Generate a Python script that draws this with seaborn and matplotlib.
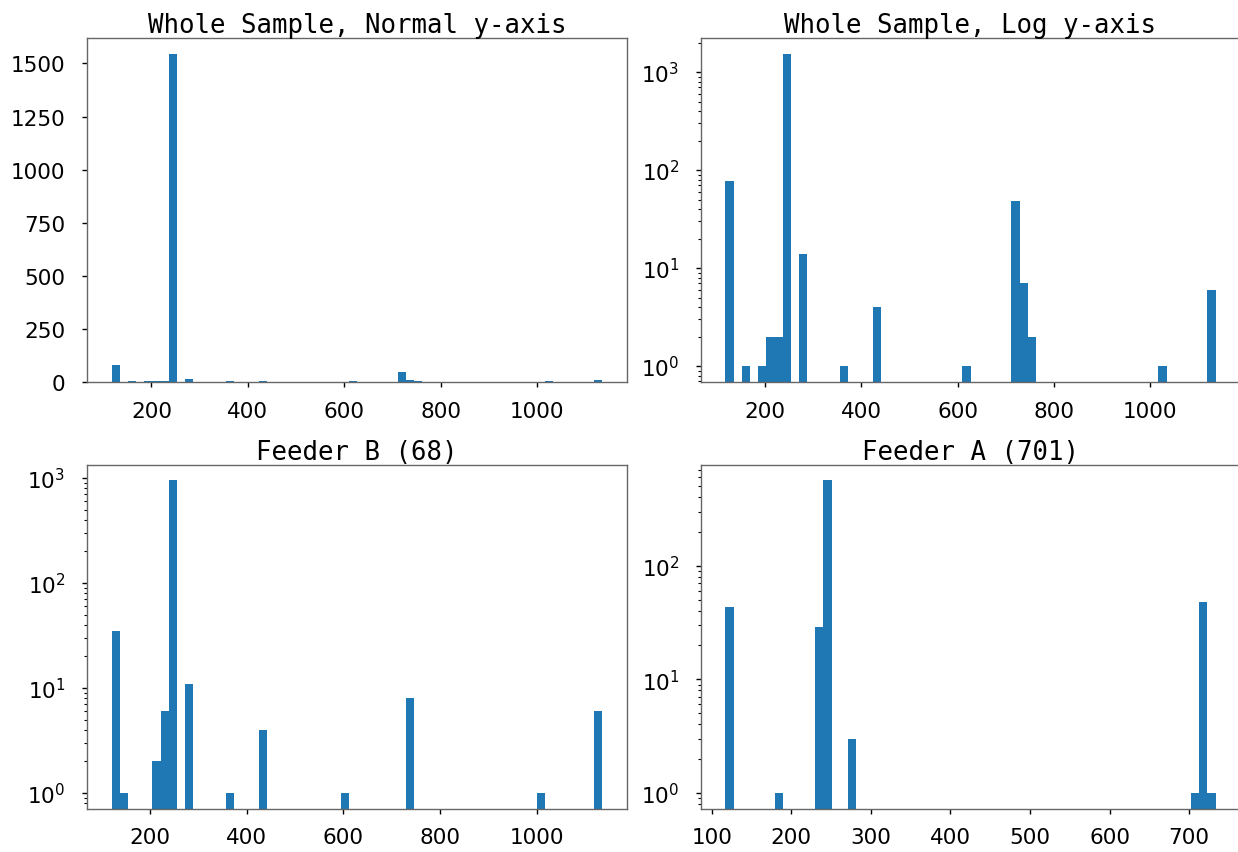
import numpy as np
import pandas as pd
import matplotlib
matplotlib.use("Agg")
import matplotlib.pyplot as plt
import seaborn as sns

# ---- data (bar locations and counts per histogram) ----
whole_range = (117.3, 1136.0)
whole_values = [125.8, 159.7, 193.7, 210.7, 227.7, 244.6, 278.6, 363.5,
                431.4, 618.1, 720.0, 737.0, 753.9, 1025.6, 1127.5]
whole_counts = [78, 1, 1, 2, 2, 1543, 14, 1, 4, 1, 48, 7, 2, 1, 6]

feeder_b_range = (120.0, 1136.0)
feeder_b_values = [128.5, 145.4, 213.1, 230.1, 247.0, 280.9, 365.5, 433.2,
                   602.6, 738.0, 1008.9, 1127.5]
feeder_b_counts = [35, 1, 2, 6, 950, 11, 1, 4, 1, 8, 1, 6]

feeder_a_range = (117.3, 733.2)
feeder_a_values = [122.4, 184.6, 235.4, 245.6, 276.4, 707.6, 717.9, 728.1]
feeder_a_counts = [43, 1, 29, 565, 3, 1, 48, 1]

n_bins = 60
titles = ["Whole Sample, Normal y-axis", "Whole Sample, Log y-axis",
          "Feeder B (68)", "Feeder A (701)"]

# ---- style ----
sns.set_style("ticks")
plt.rcParams.update({
    "font.family": ["DejaVu Sans"],
    "axes.edgecolor": "0.4",
    "axes.linewidth": 1.0,
    "xtick.color": "black",
    "ytick.color": "black",
    "xtick.labelcolor": "black",
    "ytick.labelcolor": "black",
    "xtick.labelsize": 15.5,
    "ytick.labelsize": 15.5,
    "xtick.major.size": 3.6,
    "ytick.major.size": 3.6,
    "xtick.major.width": 1.0,
    "ytick.major.width": 1.0,
    "ytick.minor.size": 2.0,
    "ytick.minor.width": 0.8,
    "xtick.major.pad": 10,
    "ytick.major.pad": 12,
    "axes.titlecolor": "black",
})

W, H = 1238, 853
fig = plt.figure(figsize=(W / 100, H / 100), dpi=100)

def rect(x0, x1, y0, y1):
    return [x0 / W, 1 - y1 / H, (x1 - x0) / W, (y1 - y0) / H]

axes = [
    fig.add_axes(rect(87, 627, 39, 382.7)),
    fig.add_axes(rect(701, 1240, 39, 382.7)),
    fig.add_axes(rect(87, 627, 465.7, 809.5)),
    fig.add_axes(rect(701, 1240, 465.7, 809.5)),
]

panels = [
    (whole_values, whole_counts, whole_range, False),
    (whole_values, whole_counts, whole_range, True),
    (feeder_b_values, feeder_b_counts, feeder_b_range, True),
    (feeder_a_values, feeder_a_counts, feeder_a_range, True),
]

for ax, (vals, cnts, rng, logy), title in zip(axes, panels, titles):
    df = pd.DataFrame({"value": vals, "count": cnts})
    sns.histplot(data=df, x="value", weights="count", bins=n_bins, binrange=rng,
                 color="#1f77b4", alpha=1.0, linewidth=0, edgecolor="none", ax=ax)
    if logy:
        ax.set_yscale("log")
        top = np.log10(max(cnts))
        ax.set_ylim(10 ** (-0.05 * top), 10 ** (1.05 * top))
    ax.set_xlabel("")
    ax.set_ylabel("")
    ax.set_title(title, family="DejaVu Sans Mono", fontsize=18.5, pad=2.5, color="black")
    for s in ax.spines.values():
        s.set_visible(True)

fig.savefig("out.png", dpi=100)
